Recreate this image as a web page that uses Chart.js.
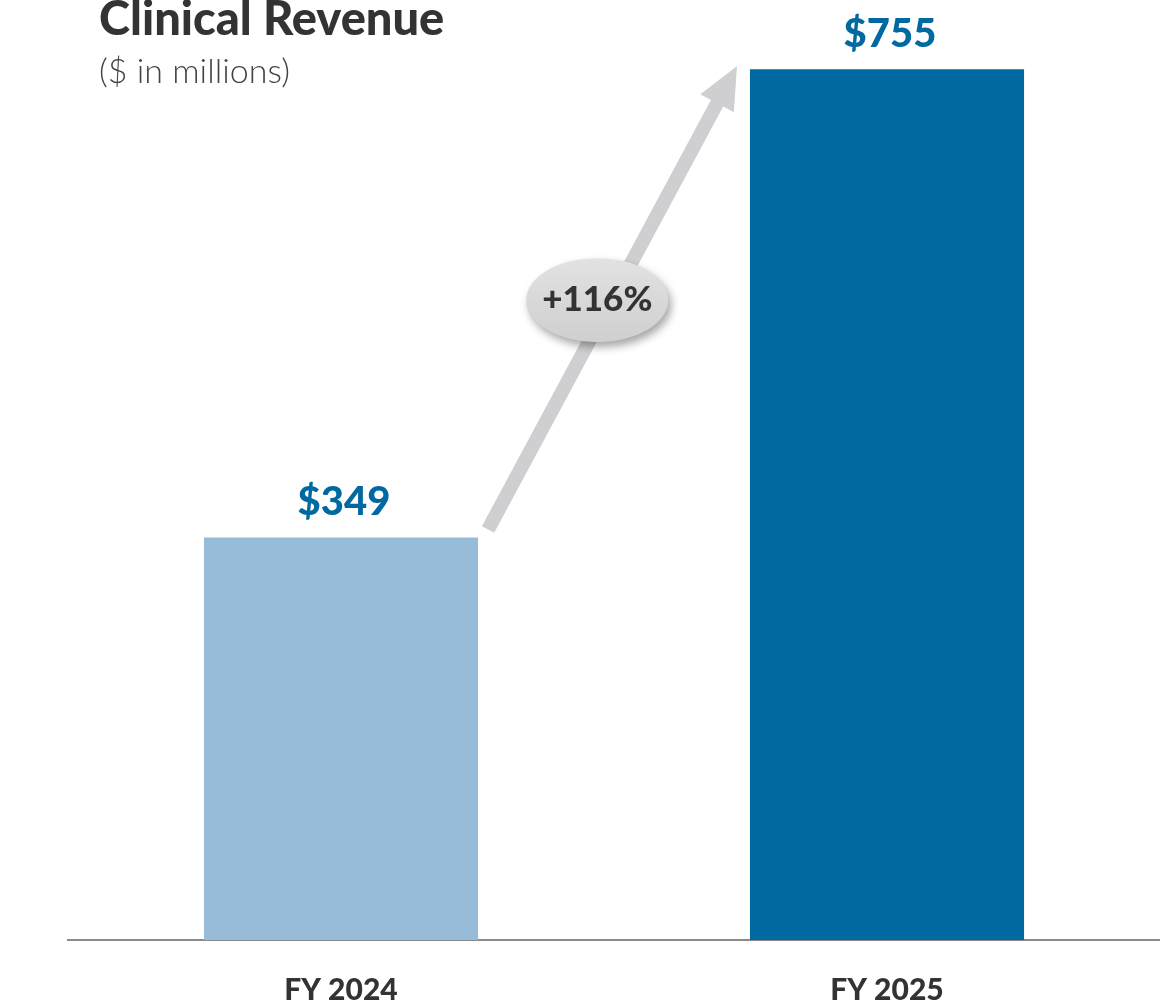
<!DOCTYPE html>
<html>
<head>
<meta charset="utf-8">
<script src="https://cdn.jsdelivr.net/npm/chart.js@4.4.1/dist/chart.umd.min.js"></script>
<style>
  html, body { margin: 0; padding: 0; background: #fff; }
  #wrap { position: relative; width: 1160px; height: 1005px; overflow: hidden; }
  #title { position: absolute; left: 99px; top: -11px; font: 900 47px Lato, sans-serif; color: #333; white-space: nowrap; }
  #sub { position: absolute; left: 99px; top: 49px; font: 300 34px Lato, sans-serif; color: #444; white-space: nowrap; }
  canvas { position: absolute; left: 0; top: 0; }
</style>
</head>
<body>
<div id="wrap">
  <canvas id="chart" width="1160" height="1005"></canvas>
  <div id="title">Clinical Revenue</div>
  <div id="sub">($ in millions)</div>
</div>
<script>
// data
var categories = ['FY 2024', 'FY 2025'];
var revenue = [349, 755];
var barColors = ['#96bcd8', '#0069a1'];
var growthLabel = '+116%';

// value labels over the bars
const valueLabels = {
    id: 'valueLabels',
    afterDatasetsDraw(chart) {
        const ctx = chart.ctx;
        const meta = chart.getDatasetMeta(0);
        ctx.save();
        ctx.font = '900 40px Lato, sans-serif';
        ctx.fillStyle = '#0069a1';
        ctx.textAlign = 'center';
        ctx.textBaseline = 'alphabetic';
        meta.data.forEach((bar, i) => {
            ctx.fillText('$' + revenue[i], bar.x + 3, bar.y - 22);
        });
        ctx.restore();
    }
};

// growth arrow between the two bars with the ellipse badge
const growthArrow = {
    id: 'growthArrow',
    afterDatasetsDraw(chart) {
        const ctx = chart.ctx;
        const meta = chart.getDatasetMeta(0);
        const a = meta.data[0], b = meta.data[1];
        const x0 = a.x + a.width / 2 + 10, y0 = a.y - 8;
        const x1 = b.x - b.width / 2 - 13, y1 = b.y - 3;
        const ang = Math.atan2(y1 - y0, x1 - x0);
        const headLen = 42, headW = 19, shaft = 7;
        const bx = x1 - Math.cos(ang) * headLen, by = y1 - Math.sin(ang) * headLen;
        const nx = -Math.sin(ang), ny = Math.cos(ang);

        ctx.save();
        ctx.fillStyle = '#cfcfd1';
        ctx.beginPath();
        ctx.moveTo(x0 + nx * shaft, y0 + ny * shaft);
        ctx.lineTo(bx + nx * shaft, by + ny * shaft);
        ctx.lineTo(bx + nx * headW, by + ny * headW);
        ctx.lineTo(x1, y1);
        ctx.lineTo(bx - nx * headW, by - ny * headW);
        ctx.lineTo(bx - nx * shaft, by - ny * shaft);
        ctx.lineTo(x0 - nx * shaft, y0 - ny * shaft);
        ctx.closePath();
        ctx.fill();

        // badge
        const t = 0.495;
        const cx = x0 + (x1 - x0) * t - 14, cy = y0 + (y1 - y0) * t;
        ctx.shadowColor = 'rgba(0,0,0,0.35)';
        ctx.shadowBlur = 8;
        ctx.shadowOffsetX = 3;
        ctx.shadowOffsetY = 5;
        const g = ctx.createLinearGradient(0, cy - 42, 0, cy + 42);
        g.addColorStop(0, '#e2e2e2');
        g.addColorStop(1, '#cfcfcf');
        ctx.fillStyle = g;
        ctx.beginPath();
        ctx.ellipse(cx, cy, 71, 42, 0, 0, Math.PI * 2);
        ctx.fill();
        ctx.shadowColor = 'transparent';
        ctx.fillStyle = '#333';
        ctx.font = '900 35px Lato, sans-serif';
        ctx.textAlign = 'center';
        ctx.textBaseline = 'middle';
        ctx.fillText(growthLabel, cx, cy);
        ctx.restore();
    }
};

const data = {
    labels: categories,
    datasets: [{
        data: revenue,
        backgroundColor: barColors,
        borderWidth: 0,
        barPercentage: 0.502,
        categoryPercentage: 1
    }]
};

const chartConfig = {
    type: 'bar',
    data: data,
    options: {
        responsive: false,
        animation: false,
        layout: { padding: { left: 68, right: 0, top: 0, bottom: 0 } },
        plugins: {
            legend: { display: false },
            tooltip: { enabled: false }
        },
        scales: {
            x: {
                grid: { display: false, drawTicks: false },
                border: { display: true, color: '#8a8a8a', width: 2 },
                ticks: {
                    color: '#333',
                    font: { family: 'Lato, sans-serif', weight: '900', size: 30 },
                    padding: 32
                },
                afterFit(scale) { scale.height = 65; }
            },
            y: {
                display: false,
                min: 0,
                max: 815
            }
        }
    },
    plugins: [growthArrow, valueLabels]
};

new Chart(document.getElementById('chart'), chartConfig);
</script>
</body>
</html>
